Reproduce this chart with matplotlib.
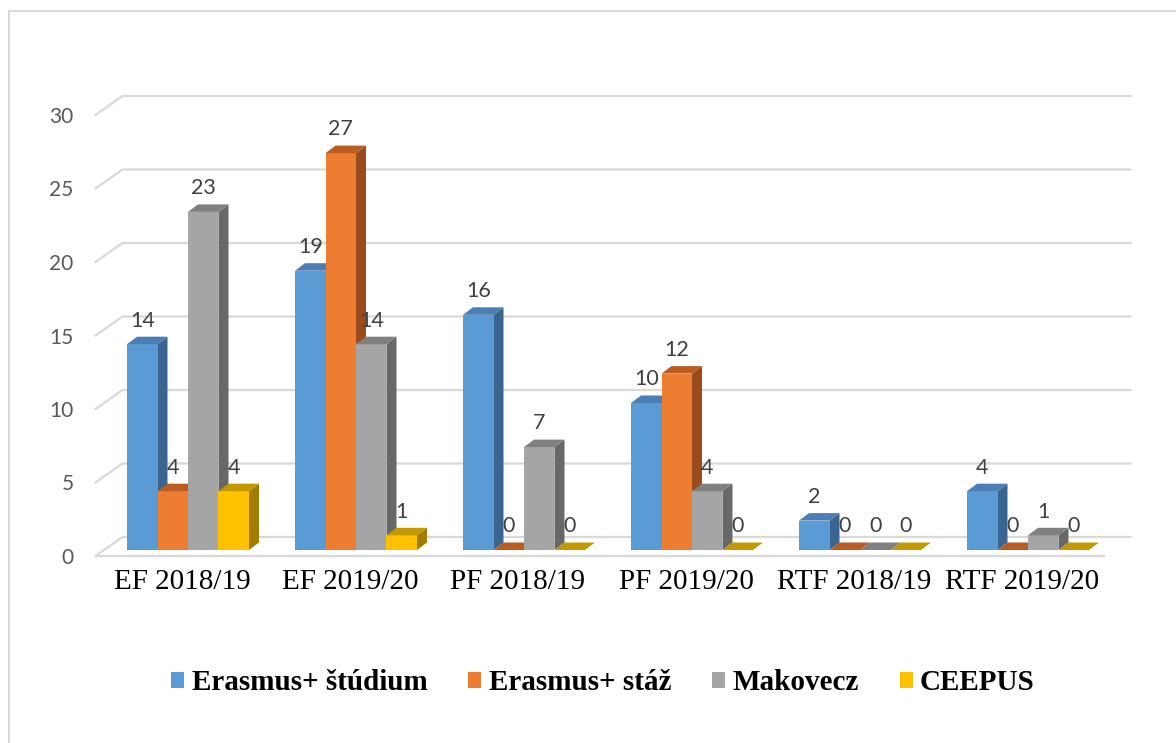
import matplotlib
matplotlib.use("Agg")
import matplotlib.pyplot as plt
from matplotlib.patches import Polygon, Rectangle, Patch
from matplotlib.lines import Line2D
from matplotlib.transforms import ScaledTranslation

# chart data
categories = ["EF 2018/19", "EF 2019/20", "PF 2018/19", "PF 2019/20", "RTF 2018/19", "RTF 2019/20"]
series_names = ["Erasmus+ štúdium", "Erasmus+ stáž", "Makovecz", "CEEPUS"]
erasmus_studium = [14, 19, 16, 10, 2, 4]
erasmus_staz = [4, 27, 0, 12, 0, 0]
makovecz = [23, 14, 7, 4, 0, 1]
ceepus = [4, 1, 0, 0, 0, 0]
y_ticks = [0, 5, 10, 15, 20, 25, 30]

series = [erasmus_studium, erasmus_staz, makovecz, ceepus]
front_cols = ["#5b9bd5", "#ed7d31", "#a5a5a5", "#ffc000"]
top_cols = ["#4a7eb5", "#bb5d22", "#808080", "#c49800"]
side_cols = ["#3a6590", "#9c4b1c", "#686868", "#a07c00"]

W, H = 1176, 743
fig = plt.figure(figsize=(W / 100, H / 100), dpi=100)

# axes placed in pixels: bar front plane
x_left, x_right = 104, 1112
y_bottom, y_top = 550, 109
ax = fig.add_axes([x_left / W, 1 - y_bottom / H, (x_right - x_left) / W, (y_bottom - y_top) / H])
ax.set_xlim(-0.5, len(categories) - 0.5)
ax.set_ylim(0, 30)
for s in ax.spines.values():
    s.set_visible(False)

ppx = (len(categories)) / (x_right - x_left)   # data units per pixel in x
ppy = 30 / (y_bottom - y_top)                   # data units per pixel in y

# depth planes (pixel offsets relative to bar front plane)
fx, fy = -8.5 * ppx, -6 * ppy     # front of floor / walls
bx, by = 18.5 * ppx, 13 * ppy     # back wall
dx, dy = 10 * ppx, 7.5 * ppy      # bar depth

grid_col = "#d9d9d9"
x0, x1 = -0.5, len(categories) - 0.5
for v in y_ticks:
    ax.add_line(Line2D([x0 + fx, x0 + bx, x1 + bx], [v + fy, v + by, v + by],
                       color=grid_col, lw=1.6, clip_on=False, zorder=1))
# floor front edge
ax.add_line(Line2D([x0 + fx, x1 + fx], [fy, fy], color=grid_col, lw=1.6, clip_on=False, zorder=1))

bar_w = 0.1815
n = len(series)
for i in range(len(categories)):
    for j in range(n):
        v = series[j][i]
        left = i - bar_w * n / 2 + j * bar_w
        right = left + bar_w
        z = 2 + i * 10 + j
        if v > 0:
            ax.add_patch(Rectangle((left, 0), bar_w, v, facecolor=front_cols[j], edgecolor="none",
                                   zorder=z + 0.2, clip_on=False))
            ax.add_patch(Polygon([(right, 0), (right, v), (right + dx, v + dy), (right + dx, dy)],
                                 closed=True, facecolor=side_cols[j], edgecolor="none",
                                 zorder=z + 0.1, clip_on=False))
        ax.add_patch(Polygon([(left, v), (right, v), (right + dx, v + dy), (left + dx, v + dy)],
                             closed=True, facecolor=top_cols[j], edgecolor="none",
                             zorder=z + 0.3, clip_on=False))
        ax.annotate(str(v), (left + bar_w / 2, v), xytext=(0, 17), textcoords="offset points",
                    ha="center", va="center", fontsize=15.5, color="#404040",
                    family="Lato", zorder=100)

# y tick labels on the front plane
ax.set_yticks(y_ticks)
ax.tick_params(axis="y", length=0, pad=22, labelsize=15, labelcolor="#595959")
shift_front = ScaledTranslation(0, -6 / 100, fig.dpi_scale_trans)
for lab in ax.get_yticklabels():
    lab.set_fontfamily("Lato")
    lab.set_transform(lab.get_transform() + shift_front)

ax.set_xticks(range(len(categories)))
ax.set_xticklabels(categories, family="Liberation Serif", fontsize=21, color="black")
ax.tick_params(axis="x", length=0, pad=14)
shift_cat = ScaledTranslation(-6 / 100, 0, fig.dpi_scale_trans)
for lab in ax.get_xticklabels():
    lab.set_transform(lab.get_transform() + shift_cat)

# legend
handles = [Patch(facecolor=c, edgecolor="none") for c in front_cols]
fig.legend(handles, series_names, loc="center", bbox_to_anchor=(603 / W, 1 - 683 / H),
           ncol=4, frameon=False, prop={"family": "Liberation Serif", "weight": "bold", "size": 21},
           handlelength=0.45, handleheight=0.45, handletextpad=0.25, columnspacing=1.4)

# chart border
fig.add_artist(Rectangle((9 / W, -0.1), 1.2, 1 - 11 / H + 0.1, transform=fig.transFigure,
                         facecolor="none", edgecolor="#d9d9d9", lw=1.5))

fig.savefig("out.png", dpi=100)
